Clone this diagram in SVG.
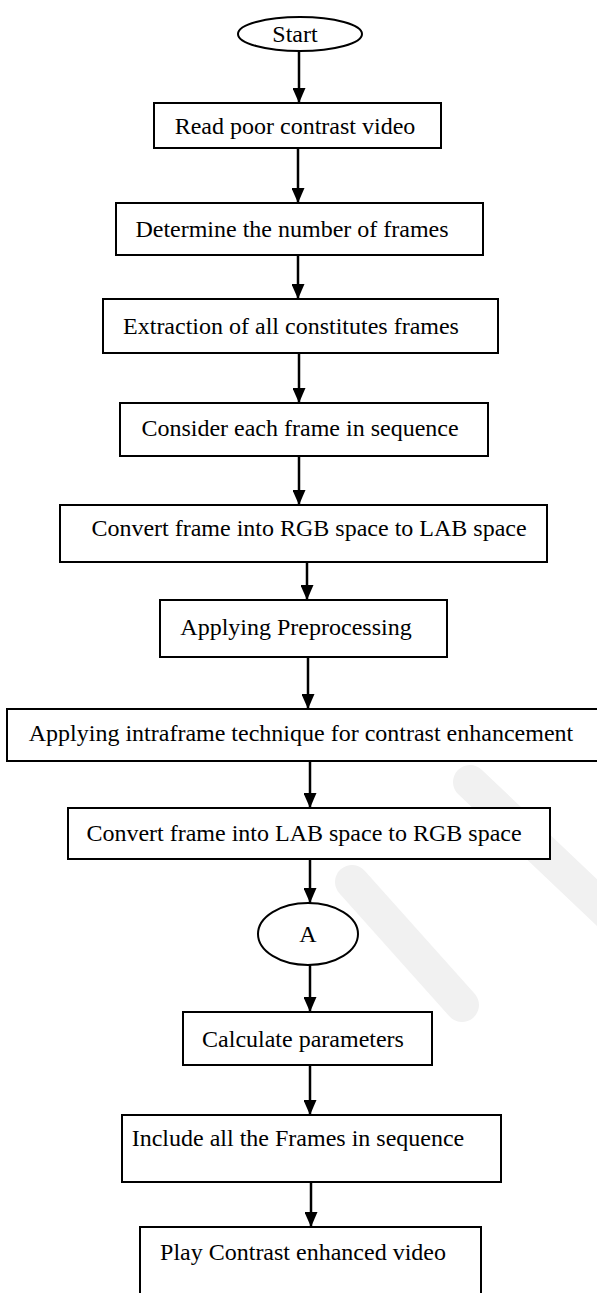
<svg xmlns="http://www.w3.org/2000/svg" width="597" height="1293" viewBox="0 0 597 1293">
<style>
.box{fill:#fff;stroke:#000;stroke-width:2}
.t{font-family:"Liberation Serif","Times New Roman",serif;font-size:24px;fill:#000;text-anchor:middle}
.c{stroke:#000;stroke-width:2.5;fill:none;marker-end:url(#ah)}
.wm{stroke:#f1f1f1;stroke-width:34;stroke-linecap:round;fill:none}
</style>
<defs>
<marker id="ah" markerUnits="userSpaceOnUse" markerWidth="15" markerHeight="13" refX="15" refY="6.5" orient="auto">
<path d="M0,0 L15,6.5 L0,13 z" fill="#000"/>
</marker>
</defs>
<rect width="597" height="1293" fill="#fff"/>
<g id="watermark">
<path class="wm" d="M352,882 L462,1005"/>
<path class="wm" d="M470,782 L610,915"/>
</g>
<g id="connectors">
<line class="c" x1="299" y1="51" x2="299" y2="103"/>
<line class="c" x1="298" y1="148" x2="298" y2="203"/>
<line class="c" x1="298" y1="255" x2="298" y2="299"/>
<line class="c" x1="299" y1="353" x2="299" y2="403"/>
<line class="c" x1="299" y1="456" x2="299" y2="505"/>
<line class="c" x1="307" y1="562" x2="307" y2="600"/>
<line class="c" x1="308" y1="657" x2="308" y2="709"/>
<line class="c" x1="310" y1="761" x2="310" y2="808"/>
<line class="c" x1="310" y1="859" x2="310" y2="903"/>
<line class="c" x1="310" y1="965" x2="310" y2="1012"/>
<line class="c" x1="310" y1="1065" x2="310" y2="1115"/>
<line class="c" x1="311" y1="1182" x2="311" y2="1227"/>
</g>
<g id="start"><ellipse class="box" cx="300" cy="34" rx="62" ry="17"/><text class="t" x="295" y="42">Start</text></g>
<g id="n1"><rect class="box" x="154" y="103" width="287" height="45"/><text class="t" x="295" y="134">Read poor contrast video</text></g>
<g id="n2"><rect class="box" x="116" y="203" width="367" height="52"/><text class="t" x="292" y="237">Determine the number of frames</text></g>
<g id="n3"><rect class="box" x="103" y="299" width="395" height="54"/><text class="t" x="291" y="334">Extraction of all constitutes frames</text></g>
<g id="n4"><rect class="box" x="120" y="403" width="368" height="53"/><text class="t" x="300" y="436">Consider each frame in sequence</text></g>
<g id="n5"><rect class="box" x="60" y="505" width="487" height="57"/><text class="t" x="309" y="536">Convert frame into RGB space to LAB space</text></g>
<g id="n6"><rect class="box" x="160" y="600" width="287" height="57"/><text class="t" x="296" y="635">Applying Preprocessing</text></g>
<g id="n7"><rect class="box" x="7" y="709" width="600" height="52"/><text class="t" x="301" y="741">Applying intraframe technique for contrast enhancement</text></g>
<g id="n8"><rect class="box" x="68" y="808" width="482" height="51"/><text class="t" x="304" y="841">Convert frame into LAB space to RGB space</text></g>
<g id="a"><ellipse class="box" cx="308" cy="934" rx="50" ry="31"/><text class="t" x="308" y="942">A</text></g>
<g id="n9"><rect class="box" x="183" y="1012" width="249" height="53"/><text class="t" x="303" y="1047">Calculate parameters</text></g>
<g id="n10"><rect class="box" x="122" y="1115" width="379" height="67"/><text class="t" x="298" y="1146">Include all the Frames in sequence</text></g>
<g id="n11"><rect class="box" x="140" y="1227" width="341" height="80"/><text class="t" x="303" y="1260">Play Contrast enhanced video</text></g>
</svg>
